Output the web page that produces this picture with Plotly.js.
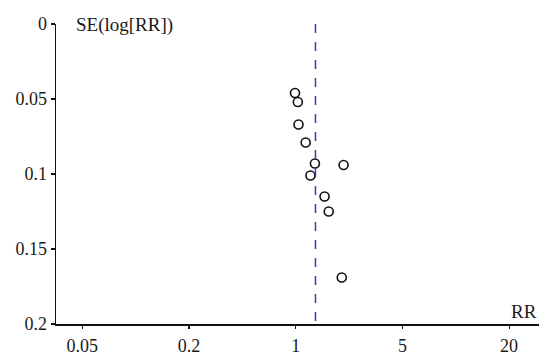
<!DOCTYPE html>
<html><head><meta charset="utf-8">
<script src="https://cdn.plot.ly/plotly-3.0.1.min.js"></script>
<style>html,body{margin:0;padding:0;background:#fff}#chart{width:540px;height:355px}</style>
</head><body><div id="chart"></div>
<script>
// Study relative risks and their standard errors of log(RR)
const studyRR = [0.99, 1.03, 1.04, 1.15, 1.31, 1.96, 1.23, 1.50, 1.59, 1.91];
const studySE = [0.046, 0.052, 0.067, 0.079, 0.093, 0.094, 0.101, 0.115, 0.125, 0.169];
const pooledRR = 1.32;
const xTickRR = [0.05, 0.2, 1, 5, 20];
const xTickLogs = [-3, -1.5, 0, 1.5, 3];
const yTicks = [0, 0.05, 0.1, 0.15, 0.2];
const yTickText = ['0', '0.05', '0.1', '0.15', '0.2'];

const font = {family: 'Liberation Serif, DejaVu Serif, serif', size: 18, color: '#1a1a1a'};
const titleFont = {family: 'Liberation Serif, DejaVu Serif, serif', size: 19, color: '#1a1a1a'};

const trace = {
  x: studyRR.map(v => Math.log(v)),
  y: studySE,
  mode: 'markers',
  type: 'scatter',
  marker: {symbol: 'circle-open', size: 9, color: '#111', line: {width: 1.6, color: '#111'}},
  hoverinfo: 'skip'
};

const layout = {
  width: 540, height: 355,
  margin: {l: 56, r: 1, t: 24, b: 31},
  paper_bgcolor: '#fff', plot_bgcolor: '#fff',
  showlegend: false,
  font: font,
  xaxis: {
    range: [-3.37, 3.42],
    tickvals: xTickLogs,
    ticktext: xTickRR.map(String),
    ticks: 'outside', ticklen: 3, tickwidth: 1.2, tickcolor: '#111',
    ticklabelstandoff: 2,
    showline: true, linecolor: '#111', linewidth: 1.5,
    showgrid: false, zeroline: false,
    tickfont: font
  },
  yaxis: {
    range: [0.2, 0],
    tickvals: yTicks, ticktext: yTickText,
    ticks: 'outside', ticklen: 4, tickwidth: 1.2, tickcolor: '#111',
    showline: true, linecolor: '#111', linewidth: 1.5,
    showgrid: false, zeroline: false,
    tickfont: font
  },
  shapes: [{
    type: 'line', xref: 'x', yref: 'y',
    x0: Math.log(pooledRR), x1: Math.log(pooledRR), y0: 0, y1: 0.2,
    line: {color: '#3a3ab8', width: 1.5, dash: 'dash'}
  }],
  annotations: [
    {text: 'SE(log[RR])', xref: 'paper', yref: 'paper', x: 0.018, y: 1, xanchor: 'left', yanchor: 'middle', xshift: 9, yshift: -1, showarrow: false, font: titleFont},
    {text: 'RR', xref: 'paper', yref: 'paper', x: 1, y: 0, xanchor: 'right', yanchor: 'bottom', yshift: 0, showarrow: false, font: titleFont}
  ]
};

Plotly.newPlot('chart', [trace], layout, {displayModeBar: false, staticPlot: true});
</script></body></html>
